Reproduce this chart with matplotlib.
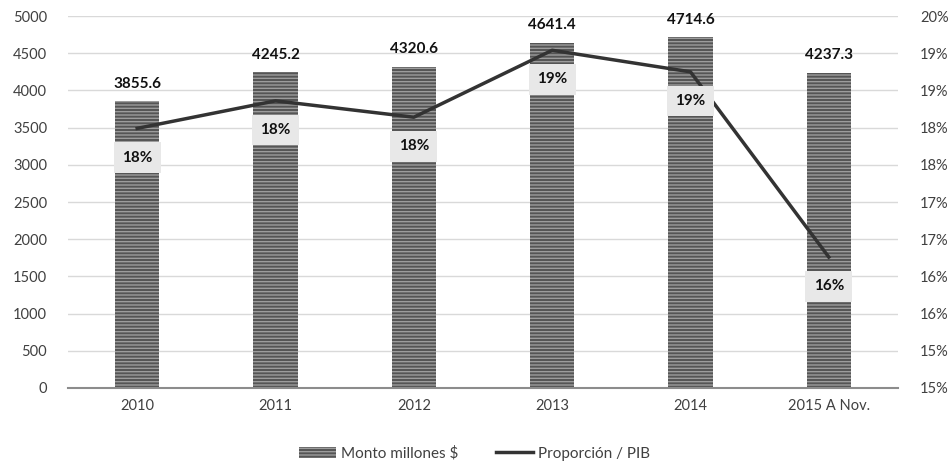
import numpy as np
import matplotlib.pyplot as plt
from matplotlib.ticker import FuncFormatter, MultipleLocator

plt.rcParams['font.family'] = ['Lato', 'DejaVu Sans']

# --- datos ---
years = ['2010', '2011', '2012', '2013', '2014', '2015 A Nov.']
monto = [3855.6, 4245.2, 4320.6, 4641.4, 4714.6, 4237.3]
proporcion = [18.49, 18.86, 18.64, 19.54, 19.25, 16.76]
prop_labels = ['18%', '18%', '18%', '19%', '19%', '16%']

fig = plt.figure(figsize=(9.49, 4.72), dpi=100)
ax = fig.add_axes([0.0717, 0.178, 0.8745, 0.788])
ax2 = ax.twinx()

x = np.arange(len(years))

# barras con rayas horizontales
ax.bar(x, monto, width=0.32, color='#555555', edgecolor='#9c9c9c',
       hatch='-----', linewidth=0, zorder=2, label='Monto millones $')
for xi, v in zip(x, monto):
    ax.text(xi, v + 140, f'{v:.1f}', ha='center', va='bottom',
            fontsize=11, fontweight='bold', color='#111111')

ax.set_xlim(-0.5, len(years) - 0.5)
ax.set_ylim(0, 5000)
ax.yaxis.set_major_locator(MultipleLocator(500))
ax.set_xticks(x)
ax.set_xticklabels(years)
ax.grid(axis='y', color='#d9d9d9', linewidth=1, zorder=0)
ax.set_axisbelow(True)
for s in ['top', 'right', 'left']:
    ax.spines[s].set_visible(False)
ax.spines['bottom'].set_color('#8c8c8c')
ax.spines['bottom'].set_linewidth(1.5)
ax.tick_params(axis='both', length=0, labelsize=10.5, colors='#404040', pad=8)
ax.tick_params(axis='y', pad=15)

# línea de proporción
ax2.plot(x, proporcion, color='#333333', linewidth=2.5, zorder=3,
         label='Proporción / PIB')
for xi, v, lab in zip(x, proporcion, prop_labels):
    ax2.annotate(lab, (xi, v), xytext=(0, -21), textcoords='offset points',
                 ha='center', va='center', fontsize=11, fontweight='bold',
                 color='#111111', zorder=4,
                 bbox=dict(boxstyle='square,pad=0.55', fc='#e8e8e8', ec='none', lw=0))
ax2.set_ylim(15, 20)
ax2.yaxis.set_major_locator(MultipleLocator(0.5))
ax2.yaxis.set_major_formatter(FuncFormatter(lambda v, p: f'{int(np.floor(v + 1e-9))}%'))
for s in ax2.spines.values():
    s.set_visible(False)
ax2.tick_params(axis='y', length=0, labelsize=10.5, colors='#404040', pad=16)

# leyenda
h1, l1 = ax.get_legend_handles_labels()
h2, l2 = ax2.get_legend_handles_labels()
fig.legend(h1 + h2, l1 + l2, loc='lower center', bbox_to_anchor=(0.5, -0.005),
           ncol=2, frameon=False, fontsize=11, handlelength=2.4,
           handletextpad=0.3, columnspacing=2.5, labelcolor='#404040')

plt.savefig('out.png', dpi=100)
